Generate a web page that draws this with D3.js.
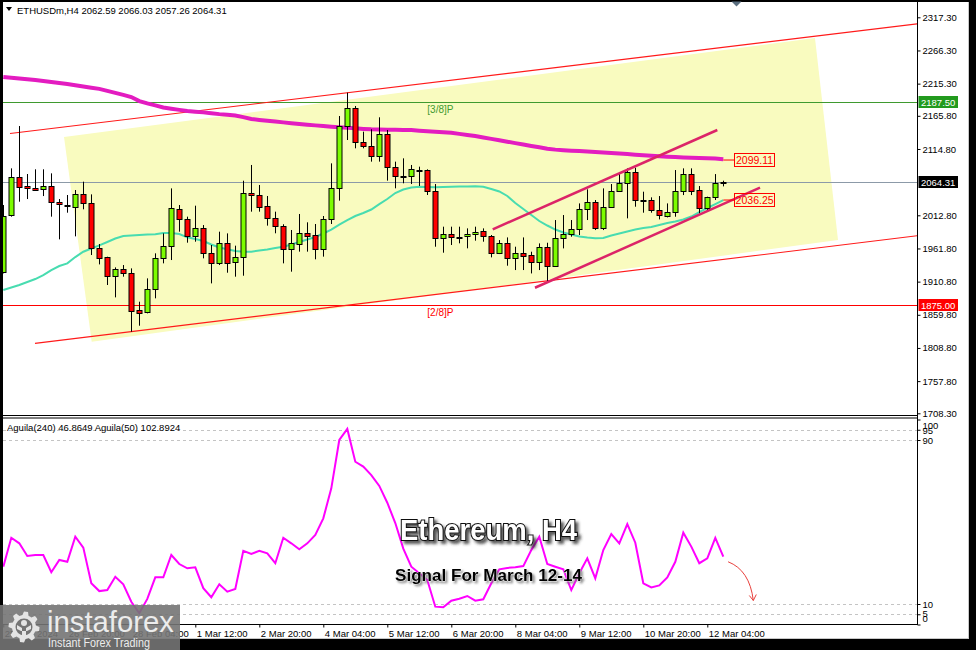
<!DOCTYPE html>
<html><head><meta charset="utf-8">
<script src="https://cdn.jsdelivr.net/npm/d3@7/dist/d3.min.js"></script>
<style>
html,body{margin:0;padding:0;background:#000;}
svg{display:block;}
text{font-family:"Liberation Sans",Arial,sans-serif;}
</style></head><body>
<svg id="c" width="976" height="650"></svg>
<script>
// ---------------- DATA ----------------
const symbolHeader = "ETHUSDm,H4  2062.59 2066.03 2057.26 2064.31";
const indicatorHeader = "Aguila(240) 46.8649  Aguila(50) 102.8924";
const open  = [1926.1,2013.2,2071.2,2057.8,2054.2,2052.7,2057.8,2032.7,2029.1,2026.0,2045.0,2031.2,1962.0,1948.1,1919.9,1929.6,1923.5,1867.1,1863.5,1898.9,1946.6,1965.5,2021.9,2007.0,1981.4,1992.7,1954.3,1938.9,1970.7,1940.4,1948.1,2046.6,2043.5,2027.1,2008.1,1996.9,1960.4,1968.7,1985.1,1982.5,1960.4,2006.6,2054.3,2150.1,2177.3,2126.1,2119.9,2104.5,2137.3,2086.6,2073.8,2073.3,2082.5,2082.5,2050.7,1977.4,1984.0,1979.4,1981.0,1983.5,1988.6,1980.9,1954.2,1969.6,1946.5,1954.2,1951.7,1941.4,1963.4,1935.3,1977.3,1984.0,1991.1,2021.9,2033.7,1992.7,2026.0,2050.6,2061.9,2078.8,2035.7,2036.3,2020.9,2012.2,2017.3,2050.1,2075.7,2051.6,2023.4,2040.4,2062.59];
const high  = [2028.6,2085.0,2150.1,2076.3,2083.5,2083.5,2077.3,2037.8,2044.0,2051.7,2064.5,2045.0,1968.6,1949.1,1932.7,1936.3,1931.2,1879.9,1915.8,1954.3,1985.0,2054.2,2028.6,2010.7,2027.6,1997.8,1967.1,1987.6,1985.0,1966.1,2066.0,2090.2,2059.4,2042.5,2018.4,1999.0,1990.2,2014.8,2002.0,1999.4,2011.7,2092.7,2165.5,2201.4,2180.9,2141.4,2145.0,2163.5,2144.0,2095.3,2100.4,2090.2,2087.6,2083.5,2060.9,1995.3,1995.3,1995.3,1992.7,1995.3,1992.7,1982.5,1974.7,1978.8,1964.5,1978.8,1956.8,1969.6,1970.6,2005.5,2013.2,2005.5,2031.1,2052.7,2036.3,2054.2,2060.9,2077.3,2085.0,2086.0,2049.1,2040.4,2042.4,2031.1,2082.4,2085.0,2085.0,2057.8,2041.4,2076.2,2066.03];
const low   = [1923.5,2010.7,2033.7,2037.8,2050.6,2042.4,2010.7,1975.8,2016.8,1980.4,2022.0,1951.7,1937.3,1905.6,1886.6,1918.4,1833.8,1843.0,1862.0,1885.1,1938.9,1944.0,1987.6,1970.7,1972.2,1946.6,1908.1,1936.3,1924.5,1918.4,1919.9,2018.4,2018.4,1996.9,1985.1,1938.9,1926.1,1956.9,1956.9,1945.1,1949.2,1999.4,2035.3,2128.6,2115.8,2115.8,2095.3,2095.3,2066.1,2054.3,2062.0,2060.9,2057.9,2044.0,1964.5,1955.3,1967.1,1969.7,1962.0,1973.8,1972.2,1948.1,1953.2,1935.3,1928.6,1928.6,1923.4,1928.6,1910.6,1933.7,1961.9,1979.9,1982.4,2005.5,1990.1,1990.1,2025.0,2049.1,2008.1,2026.0,2016.8,2016.8,2006.5,2009.6,2010.6,2043.9,2043.9,2015.7,2020.9,2036.3,2057.26];
const close = [2012.2,2071.2,2056.8,2054.2,2052.2,2057.8,2032.7,2029.6,2028.1,2045.0,2031.2,1962.0,1947.6,1919.9,1930.2,1923.5,1866.1,1863.0,1898.9,1946.6,1965.5,2023.5,2006.5,1981.4,1992.7,1954.3,1938.9,1970.7,1939.9,1948.1,2046.5,2043.5,2026.1,2008.1,1996.3,1960.4,1969.7,1985.1,1981.5,1960.4,2006.6,2054.3,2150.1,2177.3,2126.1,2119.9,2104.5,2137.3,2086.6,2073.8,2073.3,2083.5,2082.0,2050.7,1977.4,1983.5,1978.9,1979.4,1984.0,1987.6,1981.0,1954.3,1969.6,1946.5,1954.2,1950.6,1941.4,1963.4,1935.3,1977.3,1983.4,1991.1,2021.9,2033.7,1992.7,2026.0,2050.1,2061.9,2079.8,2036.3,2035.2,2020.9,2013.2,2017.3,2050.1,2075.7,2050.6,2023.4,2040.4,2061.9,2064.31];
const maSlow = [2225.5,2224.3,2223.2,2222.0,2220.9,2219.4,2217.8,2216.3,2214.7,2212.8,2210.9,2209.1,2207.2,2204.2,2201.1,2198.0,2194.7,2188.5,2185.0,2181.8,2178.6,2176.7,2174.9,2173.2,2172.2,2171.1,2169.7,2168.4,2167.4,2166.3,2163.8,2160.8,2159.5,2158.2,2157.0,2155.7,2154.5,2153.3,2152.2,2151.1,2150.0,2149.0,2148.2,2147.4,2146.6,2145.7,2145.0,2144.8,2144.5,2144.3,2144.1,2143.8,2143.0,2142.2,2141.4,2140.6,2139.7,2138.0,2136.3,2134.6,2132.4,2130.3,2128.1,2126.0,2123.8,2121.7,2119.5,2117.4,2115.2,2113.8,2112.9,2112.2,2111.5,2110.8,2110.2,2109.4,2108.6,2107.7,2106.9,2106.0,2105.2,2104.3,2103.5,2102.9,2102.4,2101.8,2101.4,2101.0,2100.6,2100.2,2099.1];
const maFast = [1897.9,1901.7,1905.6,1910.2,1914.8,1920.9,1928.6,1934.8,1938.9,1948.6,1956.8,1961.7,1966.6,1971.7,1977.1,1980.9,1981.7,1982.5,1983.1,1983.7,1985.5,1985.5,1984.0,1978.9,1976.3,1973.2,1967.9,1963.2,1960.5,1957.9,1956.8,1956.8,1958.6,1960.2,1962.5,1964.5,1967.9,1971.7,1975.5,1979.4,1984.8,1990.9,1998.6,2005.5,2011.7,2016.3,2021.7,2030.1,2037.8,2047.1,2052.4,2055.5,2056.8,2056.3,2055.8,2056.3,2056.8,2057.1,2057.1,2057.4,2056.8,2053.2,2049.4,2042.5,2031.7,2022.5,2013.2,2004.0,1997.1,1990.9,1986.3,1983.2,1980.2,1978.6,1977.6,1977.9,1981.7,1984.8,1987.9,1990.9,1993.2,1994.8,1997.9,2000.9,2003.2,2006.3,2010.9,2017.8,2024.0,2030.1,2036.3];
const aguila = [28.2,42.3,39.6,33.4,33.9,33.9,25.5,31.5,30.6,42.8,37.5,20.1,16.3,16.8,23.3,19.6,11.1,5.5,12.5,23.0,23.0,33.9,29.5,27.4,27.9,17.7,13.3,19.6,16.0,17.3,35.9,34.4,35.9,34.7,29.9,42.3,39.6,36.7,39.6,43.7,51.8,66.4,90.0,95.4,79.4,77.0,72.9,67.6,59.4,49.5,37.0,28.2,25.0,21.7,8.7,8.4,11.6,12.6,13.9,11.6,12.3,20.1,26.9,27.6,27.9,28.5,36.3,42.8,29.5,28.2,26.9,16.8,25.0,32.3,22.5,36.3,44.1,39.6,49.0,39.9,20.1,18.1,19.1,23.0,30.6,44.8,38.0,29.9,32.3,42.3,33.1];
const priceTicks = [2317.3,2266.3,2215.3,2165.8,2114.8,2012.8,1961.8,1910.8,1859.8,1808.8,1757.8,1708.3];
const indTicks = [100,95,90,10,5,0];
const indLevels = [95,90,10,5];
const timeTickIdx = [0,8,16,24,32,40,48,56,64,72,80,88];
const timeTickLabels = ["25 Feb 2024","26 Feb 20:00","28 Feb 04:00","1 Mar 12:00","2 Mar 20:00","4 Mar 04:00","5 Mar 12:00","6 Mar 20:00","8 Mar 04:00","9 Mar 12:00","10 Mar 20:00","12 Mar 04:00"];
const levelUpper = 2187.5, levelLower = 1875.0, lastPrice = 2064.31;
const levelUpperName = "[3/8]P", levelLowerName = "[2/8]P";
const zoneCorners = [[7.59,2133.2],[101.46,2285.5],[104.34,1974.8],[11.05,1818.4]];
const trendUpper = [[0.84,2138.5],[114.3,2307.3]];
const trendLower = [[3.96,1815.9],[114.3,1981.4]];
const chanUpper = [[61.18,1991.2],[89.25,2144.0]];
const chanLower = [[66.46,1901.4],[94.59,2055.2]];
const maSlowLabel = "2099.11", maFastLabel = "2036.25";
const arrowPts = [[90.6,30.6],[93.3,26.5],[93.75,11.7]];
const title1 = "Ethereum, H4", title2 = "Signal For March 12-14";

// ---------------- SCALES ----------------
const x = d3.scaleLinear().domain([0,90]).range([3.3,723.3]);
const y = d3.scaleLinear().domain([1708.3,2317.3]).range([413.3,17.3]);
const yi = d3.scaleLinear().domain([0,100]).range([624.5,419.5]);
const AX = 917.5, FONT = "9.5px";

const svg = d3.select("#c");
svg.append("rect").attr("width",976).attr("height",650).attr("fill","#000");
svg.append("rect").attr("x",3).attr("y",2).attr("width",965).attr("height",637).attr("fill","#fff");
svg.append("line").attr("x1",968.5).attr("x2",968.5).attr("y1",2).attr("y2",639).attr("stroke","#c8c8c8");
svg.append("line").attr("x1",3).attr("x2",969).attr("y1",638.5).attr("y2",638.5).attr("stroke","#c8c8c8");

const defs = svg.append("defs");
defs.append("clipPath").attr("id","cp").append("rect").attr("x",3).attr("y",2).attr("width",914).attr("height",413);
defs.append("clipPath").attr("id","ci").append("rect").attr("x",3).attr("y",418).attr("width",914).attr("height",206);
const f1 = defs.append("filter").attr("id","sh1").attr("x","-20%").attr("y","-40%").attr("width","140%").attr("height","180%");
f1.append("feDropShadow").attr("dx",3).attr("dy",3).attr("stdDeviation",1.6).attr("flood-color","#333").attr("flood-opacity",0.8);
const f2 = defs.append("filter").attr("id","sh2").attr("x","-20%").attr("y","-40%").attr("width","140%").attr("height","180%");
f2.append("feDropShadow").attr("dx",2).attr("dy",2).attr("stdDeviation",1.3).attr("flood-color","#777").attr("flood-opacity",0.8);

// ---------------- PRICE PANE ----------------
const gp = svg.append("g").attr("clip-path","url(#cp)");
gp.append("polygon").attr("points", zoneCorners.map(d=>[x(d[0]),y(d[1])].join(",")).join(" "))
  .attr("fill","#f9fbbf");

function hline(v,col){ gp.append("line").attr("x1",3).attr("x2",AX).attr("y1",Math.round(y(v))+0.5).attr("y2",Math.round(y(v))+0.5).attr("stroke",col).attr("stroke-width",1); }
hline(levelUpper,"#3f9a2f");
hline(lastPrice,"#8c9aa8");
hline(levelLower,"#ff0000");

[trendUpper,trendLower].forEach(t=>{
  gp.append("line").attr("x1",x(t[0][0])).attr("y1",y(t[0][1])).attr("x2",x(t[1][0])).attr("y2",y(t[1][1]))
    .attr("stroke","#ff1a1a").attr("stroke-width",1.1);
});

gp.append("text").attr("x",x(53)).attr("y",y(levelUpper)+11).attr("font-size","10px").attr("fill","#3f9a2f").text(levelUpperName);
gp.append("text").attr("x",x(53)).attr("y",y(levelLower)+11).attr("font-size","10px").attr("fill","#ff0000").text(levelLowerName);

const lineGen = d3.line().x((d,i)=>x(i)).y(d=>y(d));
gp.append("path").attr("d",lineGen(maSlow)).attr("fill","none").attr("stroke","#e31cc0").attr("stroke-width",4);
gp.append("path").attr("d",lineGen(maFast)).attr("fill","none").attr("stroke","#48dcb0").attr("stroke-width",2);

// candles
const candles = gp.append("g");
open.forEach((o,i)=>{
  const c = close[i];
  const cx = Math.round(x(i))+0.5;
  const col = c>o ? "#7cfc00" : (c<o ? "#ff0000" : "#000");
  candles.append("line").attr("x1",cx).attr("x2",cx).attr("y1",y(high[i])).attr("y2",y(low[i])).attr("stroke","#000").attr("stroke-width",1);
  const top = Math.round(y(Math.max(o,c)))+0.5, bot = Math.round(y(Math.min(o,c)))+0.5;
  const h = Math.max(bot-top,1);
  candles.append("rect").attr("x",cx-2.5).attr("y",top).attr("width",5).attr("height",h)
    .attr("fill",col).attr("stroke","#000").attr("stroke-width",1);
});

[chanUpper,chanLower].forEach(t=>{
  gp.append("line").attr("x1",x(t[0][0])).attr("y1",y(t[0][1])).attr("x2",x(t[1][0])).attr("y2",y(t[1][1]))
    .attr("stroke","#dc2468").attr("stroke-width",2.5);
});

// MA end labels
function maLabel(v,txt){
  const yy = y(v);
  gp.append("line").attr("x1",x(90)).attr("x2",x(91.35)).attr("y1",yy).attr("y2",yy).attr("stroke","#ff0000");
  gp.append("rect").attr("x",Math.round(x(91.35))+0.5).attr("y",Math.round(yy)-6.5).attr("width",40).attr("height",13)
    .attr("fill","none").attr("stroke","#ff0000");
  gp.append("text").attr("x",x(91.35)+20.5).attr("y",yy+3.6).attr("text-anchor","middle").attr("font-size","10.5px").attr("fill","#ff0000").text(txt);
}
maLabel(maSlow[maSlow.length-1]-1.3, maSlowLabel);
maLabel(maFast[maFast.length-1], maFastLabel);

// header
svg.append("path").attr("d","M6,7 L12,7 L9,11 Z").attr("fill","#000");
svg.append("text").attr("x",17).attr("y",13.5).attr("font-size",FONT).attr("fill","#000").text(symbolHeader);
svg.append("path").attr("d","M731.5,1.5 L741.5,1.5 L736.5,6.5 Z").attr("fill","#5b6f80");

// price axis
const ya = svg.append("g").attr("transform",`translate(${AX},0)`)
  .call(d3.axisRight(y).tickValues(priceTicks).tickSize(3).tickPadding(2).tickFormat(d=>d.toFixed(2)));
ya.select(".domain").remove();
ya.selectAll("text").attr("font-size",FONT).attr("fill","#000").attr("font-family","Liberation Sans, Arial, sans-serif");
ya.selectAll("line").attr("stroke","#000");

function axisBox(v,bg,fg){
  const yy = Math.round(y(v));
  svg.append("rect").attr("x",918.5).attr("y",yy-6).attr("width",39.5).attr("height",12).attr("fill",bg);
  svg.append("text").attr("x",921).attr("y",yy+3.5).attr("font-size",FONT).attr("fill",fg).text(v.toFixed(2));
}
axisBox(levelUpper,"#229a1e","#fff");
axisBox(lastPrice,"#000","#fff");
axisBox(levelLower,"#ff0000","#fff");

// ---------------- INDICATOR PANE ----------------
const gi = svg.append("g").attr("clip-path","url(#ci)");
indLevels.forEach(v=>{
  gi.append("line").attr("x1",3).attr("x2",AX).attr("y1",Math.round(yi(v))+0.5).attr("y2",Math.round(yi(v))+0.5)
    .attr("stroke","#c4c4c4").attr("stroke-dasharray","3,3");
});
gi.append("path").attr("d",d3.line().x((d,i)=>x(i)).y(d=>yi(d))(aguila)).attr("fill","none").attr("stroke","#ff00ff").attr("stroke-width",2);

svg.append("text").attr("x",7).attr("y",430.5).attr("font-size",FONT).attr("fill","#000").text(indicatorHeader);

const ia = svg.append("g").attr("transform",`translate(${AX},0)`)
  .call(d3.axisRight(yi).tickValues(indTicks).tickSize(3).tickPadding(2));
ia.select(".domain").remove();
ia.selectAll("line").attr("stroke","#000");
const indOff = {100:5.5,95:1,90:0,10:0,5:-1,0:-6};
ia.selectAll("text").attr("font-size",FONT).attr("fill","#000").attr("font-family","Liberation Sans, Arial, sans-serif")
  .attr("transform",d=>`translate(0,${indOff[d]})`);

// red arrow annotation
const ap = arrowPts.map(d=>[x(d[0]),yi(d[1])]);
svg.append("path").attr("d",`M${ap[0][0]},${ap[0][1]} Q${ap[1][0]},${ap[1][1]} ${ap[2][0]},${ap[2][1]}`)
  .attr("fill","none").attr("stroke","#e8403c").attr("stroke-width",1);
svg.append("path").attr("d",`M${ap[2][0]-4},${ap[2][1]-5} L${ap[2][0]},${ap[2][1]} L${ap[2][0]+3},${ap[2][1]-6}`)
  .attr("fill","none").attr("stroke","#e8403c").attr("stroke-width",1);

// titles
svg.append("text").attr("x",488.5).attr("y",540).attr("text-anchor","middle").attr("font-size","30px").attr("font-weight","bold")
  .attr("textLength",177).attr("lengthAdjust","spacingAndGlyphs")
  .attr("fill","#fff").attr("stroke","#111").attr("stroke-width",2.2).attr("paint-order","stroke")
  .attr("filter","url(#sh1)").text(title1);
svg.append("text").attr("x",488.5).attr("y",581).attr("text-anchor","middle").attr("font-size","17px").attr("font-weight","bold")
  .attr("textLength",187).attr("lengthAdjust","spacingAndGlyphs")
  .attr("fill","#000").attr("stroke","#fff").attr("stroke-width",0.6).attr("paint-order","stroke")
  .attr("filter","url(#sh2)").text(title2);

// frames
svg.append("line").attr("x1",AX).attr("x2",AX).attr("y1",2).attr("y2",625).attr("stroke","#000");
svg.append("line").attr("x1",3).attr("x2",AX).attr("y1",415.5).attr("y2",415.5).attr("stroke","#000");
svg.append("line").attr("x1",3).attr("x2",AX).attr("y1",418).attr("y2",418).attr("stroke","#000");
svg.append("line").attr("x1",3).attr("x2",AX).attr("y1",624.5).attr("y2",624.5).attr("stroke","#000");

// time axis
const xa = svg.append("g").attr("transform","translate(0,624.5)")
  .call(d3.axisBottom(x).tickValues(timeTickIdx).tickSize(3).tickFormat((d,k)=>timeTickLabels[k]));
xa.select(".domain").remove();
xa.selectAll("line").attr("stroke","#000");
xa.selectAll("text").attr("font-size",FONT).attr("fill","#000").attr("font-family","Liberation Sans, Arial, sans-serif")
  .attr("text-anchor","start").attr("x",1).attr("y",12).attr("dy",0);

// logo
const lg = svg.append("g").attr("transform","translate(0,605)");
lg.append("rect").attr("width",180).attr("height",45).attr("fill","#747474").attr("opacity",0.9);
const gear = lg.append("g").attr("transform","translate(24,22)");
const gpts = d3.range(48).map(k=>{const a=k/48*2*Math.PI; const r=(Math.floor(k/3)%2===0)?15.5:12; return [Math.cos(a)*r,Math.sin(a)*r];});
gear.append("path").attr("d",d3.line()(gpts)+"Z").attr("fill","#e4e4e4");
gear.append("circle").attr("r",8.5).attr("fill","#747474");
gear.append("circle").attr("cy",-4).attr("r",3).attr("fill","#e4e4e4");
gear.append("path").attr("d","M-7,-2 L-2,1 L-2,12 L2,12 L2,1 L7,-2 L7,2 L3,4 L-3,4 L-7,2 Z").attr("fill","#e4e4e4");
lg.append("text").attr("x",47).attr("y",27).attr("font-size","30px").attr("font-family","Open Sans, Liberation Sans, sans-serif")
  .attr("textLength",127).attr("lengthAdjust","spacingAndGlyphs").attr("fill","#ececec").text("instaforex");
lg.append("text").attr("x",48).attr("y",42).attr("font-size","12px").attr("textLength",102).attr("lengthAdjust","spacingAndGlyphs")
  .attr("fill","#ececec").text("Instant Forex Trading");
</script>
</body></html>
